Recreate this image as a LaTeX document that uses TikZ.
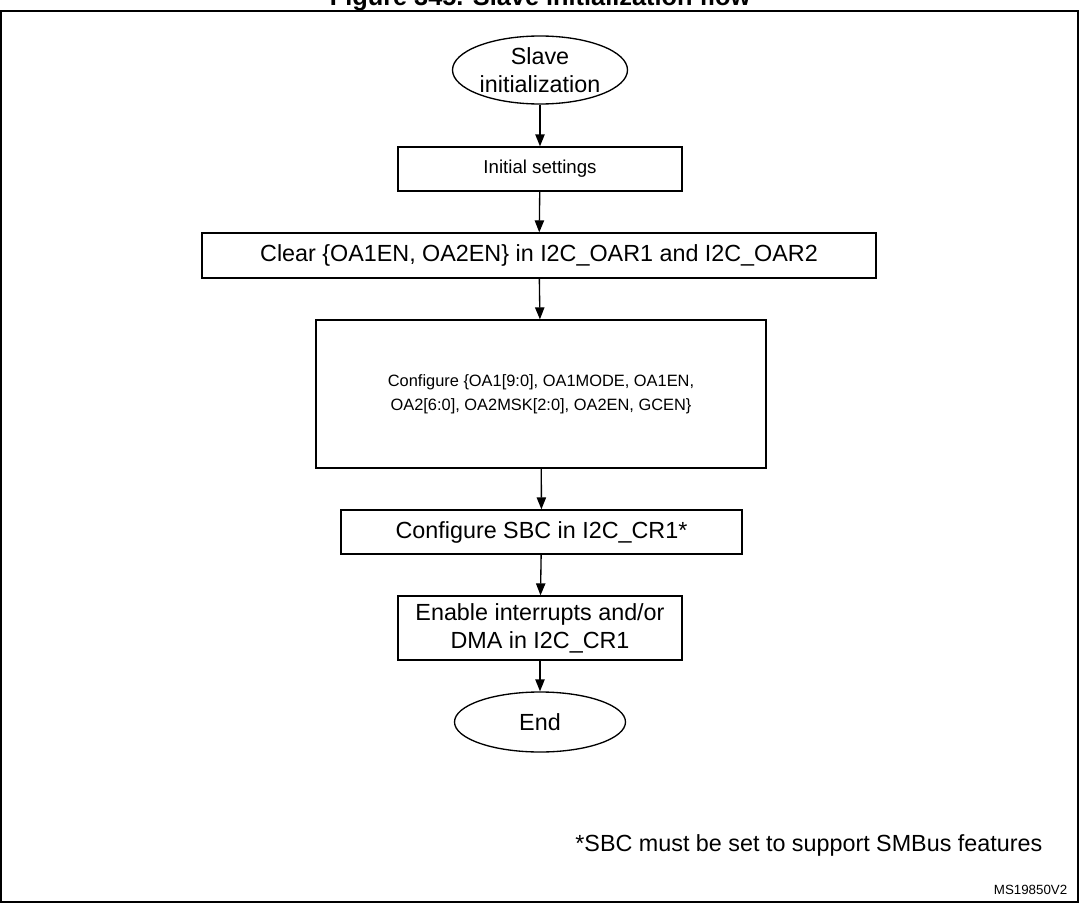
\documentclass[tikz,border=0pt]{standalone}
\usepackage{fontspec}
\setmainfont{Liberation Sans}
\usetikzlibrary{shapes.geometric,arrows.meta}
\begin{document}
\begin{tikzpicture}[x=0.75pt,y=-0.75pt,font=\fontsize{17.5}{21}\selectfont]
  \tikzstyle{stepbox}=[draw=black,line width=1pt,align=center,inner sep=0pt]
  \tikzstyle{term}=[ellipse,draw=black,line width=1pt,align=center,inner sep=0pt]
  \tikzstyle{flow}=[-{Triangle[length=9pt,width=7pt]},line width=1pt]
  \useasboundingbox (0,0) rectangle (1079,903);
  \draw[line width=1pt] (1,11) rectangle (1078,902);
  \node[font=\bfseries\fontsize{19}{22}\selectfont,anchor=base] (title) at (540,6) {Figure 345. Slave initialization flow};
  \node[term,minimum width=175pt*0.75,minimum height=68pt*0.75](start) at (540,70) {Slave\\initialization};
  \node[stepbox,minimum width=284pt*0.75,minimum height=44pt*0.75,font=\fontsize{14}{17}\selectfont](init) at (540,169) {Initial settings};
  \node[stepbox,minimum width=674pt*0.75,minimum height=45pt*0.75](clear) at (539,255.5) {Clear \{OA1EN, OA2EN\} in I2C\_OAR1 and I2C\_OAR2};
  \node[stepbox,minimum width=450pt*0.75,minimum height=148pt*0.75,font=\fontsize{12.3}{18}\selectfont](conf) at (541,394) {Configure \{OA1[9:0], OA1MODE, OA1EN,\\OA2[6:0], OA2MSK[2:0], OA2EN, GCEN\}};
  \node[stepbox,minimum width=401pt*0.75,minimum height=44pt*0.75](sbc) at (541.5,532) {Configure SBC in I2C\_CR1*};
  \node[stepbox,minimum width=284pt*0.75,minimum height=64pt*0.75](irq) at (540,628) {Enable interrupts and/or\\DMA in I2C\_CR1};
  \node[term,minimum width=171pt*0.75,minimum height=60pt*0.75](end) at (540,722) {End};
  \draw[flow] (start) -- (init);
  \draw[flow] (init) -- (clear);
  \draw[flow] (clear) -- (conf);
  \draw[flow] (conf) -- (sbc);
  \draw[flow] (sbc) -- (irq);
  \draw[flow] (irq) -- (end);
  \node[anchor=east] (note) at (1047,845) {*SBC must be set to support SMBus features};
  \node[anchor=east,font=\fontsize{10}{12}\selectfont] (ref) at (1072,890) {MS19850V2};
\end{tikzpicture}
\end{document}
